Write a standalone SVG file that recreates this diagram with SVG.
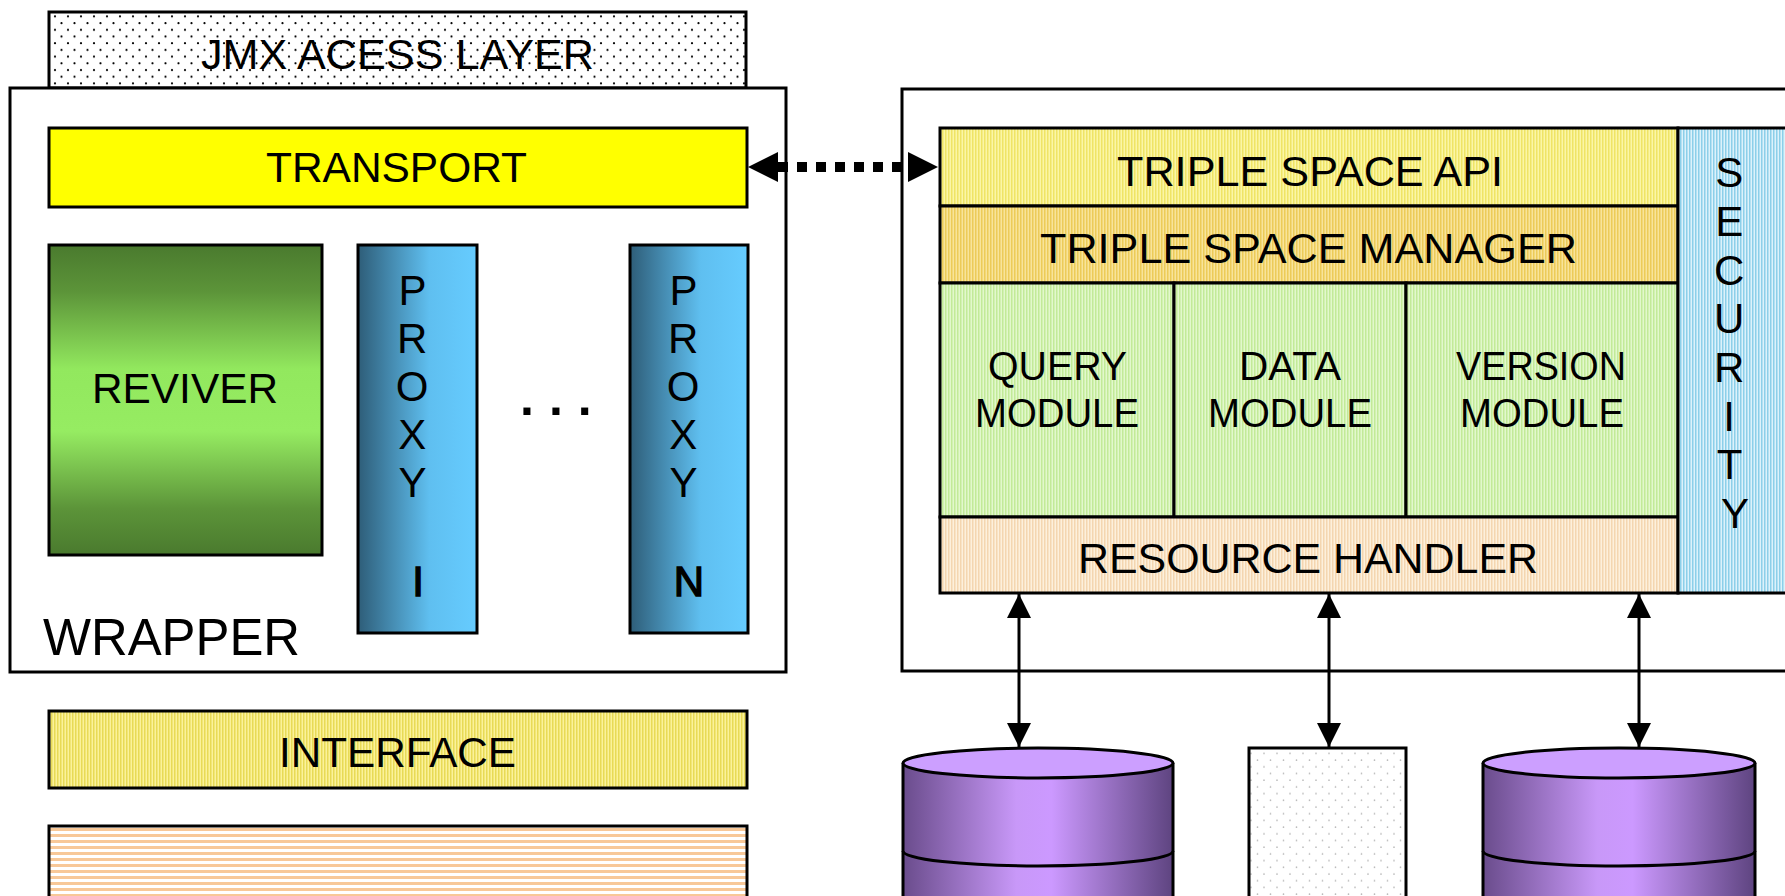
<svg xmlns="http://www.w3.org/2000/svg" width="1785" height="896" viewBox="0 0 1785 896">
  <defs>
    <style>
      .lbl { font-family: "Liberation Sans", Arial, sans-serif; font-size: 42px; fill: #000; }
      .big { font-size: 51px; }
      .mod { font-size: 40px; }
      .heavy { stroke: #000; stroke-width: 1.4px; }
      .box { stroke: #000; stroke-width: 3; }
      .frame { fill: #fff; stroke: #000; stroke-width: 3; }
      .link { stroke: #000; stroke-width: 3; fill: none; }
    </style>
    <!-- dotted texture -->
    <pattern id="dots" width="13" height="13.4" patternUnits="userSpaceOnUse">
      <rect width="13" height="13.4" fill="#fff"/>
      <circle cx="3" cy="3" r="1.1" fill="#000"/>
      <circle cx="9.5" cy="9.7" r="1.1" fill="#000"/>
    </pattern>
    <pattern id="dotsFaint" width="13" height="13.4" patternUnits="userSpaceOnUse">
      <rect width="13" height="13.4" fill="#fff"/>
      <circle cx="3" cy="3" r="0.8" fill="#b8b8b8"/>
      <circle cx="9.5" cy="9.7" r="0.8" fill="#b8b8b8"/>
    </pattern>
    <!-- fine vertical stripe fills -->
    <pattern id="stApi" width="3" height="10" patternUnits="userSpaceOnUse">
      <rect width="3" height="10" fill="#fbf6a6"/>
      <rect width="1.5" height="10" fill="#efe466"/>
    </pattern>
    <pattern id="stMgr" width="3" height="10" patternUnits="userSpaceOnUse">
      <rect width="3" height="10" fill="#f8e49a"/>
      <rect width="1.5" height="10" fill="#eccb58"/>
    </pattern>
    <pattern id="stMod" width="3" height="10" patternUnits="userSpaceOnUse">
      <rect width="3" height="10" fill="#e2f8cc"/>
      <rect width="1.5" height="10" fill="#c2ea98"/>
    </pattern>
    <pattern id="stRes" width="3" height="10" patternUnits="userSpaceOnUse">
      <rect width="3" height="10" fill="#fdf0dc"/>
      <rect width="1.5" height="10" fill="#f4d6b0"/>
    </pattern>
    <pattern id="stSec" width="3" height="10" patternUnits="userSpaceOnUse">
      <rect width="3" height="10" fill="#dcf2fb"/>
      <rect width="1.5" height="10" fill="#8ccfe9"/>
    </pattern>
    <pattern id="stIfc" width="3" height="10" patternUnits="userSpaceOnUse">
      <rect width="3" height="10" fill="#fbf29a"/>
      <rect width="1.5" height="10" fill="#e8da56"/>
    </pattern>
    <pattern id="stHor" width="10" height="6" patternUnits="userSpaceOnUse">
      <rect width="10" height="6" fill="#fff"/>
      <rect width="10" height="3" fill="#f8c898"/>
    </pattern>
    <linearGradient id="gReviver" x1="0" y1="0" x2="0" y2="1">
      <stop offset="0" stop-color="#4a7a2e"/>
      <stop offset="0.15" stop-color="#5c9439"/>
      <stop offset="0.4" stop-color="#92e85e"/>
      <stop offset="0.6" stop-color="#96ec62"/>
      <stop offset="0.85" stop-color="#5c9439"/>
      <stop offset="1" stop-color="#4a7a2e"/>
    </linearGradient>
    <linearGradient id="gProxy" x1="0" y1="0" x2="1" y2="0">
      <stop offset="0" stop-color="#2e5d78"/>
      <stop offset="0.6" stop-color="#5fbff0"/>
      <stop offset="1" stop-color="#66ccff"/>
    </linearGradient>
    <linearGradient id="gDisk" x1="0" y1="0" x2="1" y2="0">
      <stop offset="0" stop-color="#6a4c8c"/>
      <stop offset="0.42" stop-color="#c898f8"/>
      <stop offset="0.55" stop-color="#cc99ff"/>
      <stop offset="1" stop-color="#5e4480"/>
    </linearGradient>
    <marker id="head" viewBox="0 0 24 24" refX="24" refY="12" markerWidth="24" markerHeight="24" markerUnits="userSpaceOnUse" orient="auto-start-reverse">
      <path d="M0,0 L24,12 L0,24 Z" fill="#000"/>
    </marker>
  </defs>

  <rect width="1785" height="896" fill="#fff"/>

  <!-- left stack -->
  <g id="jmx-access-layer">
    <rect x="49" y="12" width="697" height="76" fill="url(#dots)" class="box"/>
    <text class="lbl" x="201" y="69" textLength="393" lengthAdjust="spacingAndGlyphs">JMX ACESS LAYER</text>
  </g>

  <g id="wrapper">
    <rect x="10" y="88" width="776" height="584" class="frame"/>
    <text class="lbl big" x="43" y="655" textLength="257" lengthAdjust="spacingAndGlyphs">WRAPPER</text>
  </g>

  <g id="transport">
    <rect x="49" y="128" width="698" height="79" fill="#ffff00" class="box"/>
    <text class="lbl" x="266" y="182" textLength="261" lengthAdjust="spacingAndGlyphs">TRANSPORT</text>
  </g>

  <g id="reviver">
    <rect x="49" y="245" width="273" height="310" fill="url(#gReviver)" class="box"/>
    <text class="lbl" x="92" y="403" textLength="186" lengthAdjust="spacingAndGlyphs">REVIVER</text>
  </g>

  <g id="proxy-i">
    <rect x="358" y="245" width="119" height="388" fill="url(#gProxy)" class="box"/>
    <text class="lbl" text-anchor="middle">
      <tspan x="418" y="305">P</tspan>
      <tspan x="418" y="353">R</tspan>
      <tspan x="418" y="401">O</tspan>
      <tspan x="418" y="449">X</tspan>
      <tspan x="418" y="497">Y</tspan>
      <tspan x="418" y="596" class="heavy">I</tspan>
    </text>
  </g>

  <g id="ellipsis">
    <text class="lbl" x="520" y="415" style="font-size:50px;font-weight:bold" letter-spacing="15">...</text>
  </g>

  <g id="proxy-n">
    <rect x="630" y="245" width="118" height="388" fill="url(#gProxy)" class="box"/>
    <text class="lbl" text-anchor="middle">
      <tspan x="689" y="305">P</tspan>
      <tspan x="689" y="353">R</tspan>
      <tspan x="689" y="401">O</tspan>
      <tspan x="689" y="449">X</tspan>
      <tspan x="689" y="497">Y</tspan>
      <tspan x="689" y="596" class="heavy">N</tspan>
    </text>
  </g>

  <g id="interface">
    <rect x="49" y="711" width="698" height="77" fill="url(#stIfc)" class="box"/>
    <text class="lbl" x="279" y="767" textLength="237" lengthAdjust="spacingAndGlyphs">INTERFACE</text>
  </g>

  <g id="lower-layer">
    <rect x="49" y="826" width="698" height="90" fill="url(#stHor)" class="box"/>
  </g>

  <!-- right stack -->
  <g id="triple-space-frame">
    <rect x="902" y="89" width="900" height="582" class="frame"/>
  </g>

  <g id="triple-space-api">
    <rect x="940" y="128" width="738" height="78" fill="url(#stApi)" class="box"/>
    <text class="lbl" x="1117" y="186" textLength="386" lengthAdjust="spacingAndGlyphs">TRIPLE SPACE API</text>
  </g>

  <g id="triple-space-manager">
    <rect x="940" y="206" width="738" height="77" fill="url(#stMgr)" class="box"/>
    <text class="lbl" x="1040" y="263" textLength="537" lengthAdjust="spacingAndGlyphs">TRIPLE SPACE MANAGER</text>
  </g>

  <g id="query-module">
    <rect x="940" y="283" width="234" height="234" fill="url(#stMod)" class="box"/>
    <text class="lbl mod"><tspan x="988" y="380" textLength="139" lengthAdjust="spacingAndGlyphs">QUERY</tspan></text>
    <text class="lbl mod"><tspan x="975" y="427" textLength="164" lengthAdjust="spacingAndGlyphs">MODULE</tspan></text>
  </g>

  <g id="data-module">
    <rect x="1174" y="283" width="232" height="234" fill="url(#stMod)" class="box"/>
    <text class="lbl mod"><tspan x="1239" y="380" textLength="102" lengthAdjust="spacingAndGlyphs">DATA</tspan></text>
    <text class="lbl mod"><tspan x="1208" y="427" textLength="164" lengthAdjust="spacingAndGlyphs">MODULE</tspan></text>
  </g>

  <g id="version-module">
    <rect x="1406" y="283" width="272" height="234" fill="url(#stMod)" class="box"/>
    <text class="lbl mod"><tspan x="1456" y="380" textLength="170" lengthAdjust="spacingAndGlyphs">VERSION</tspan></text>
    <text class="lbl mod"><tspan x="1460" y="427" textLength="164" lengthAdjust="spacingAndGlyphs">MODULE</tspan></text>
  </g>

  <g id="resource-handler">
    <rect x="940" y="517" width="738" height="76" fill="url(#stRes)" class="box"/>
    <text class="lbl" x="1078" y="573" textLength="460" lengthAdjust="spacingAndGlyphs">RESOURCE HANDLER</text>
  </g>

  <g id="security">
    <rect x="1678" y="128" width="130" height="465" fill="url(#stSec)" class="box"/>
    <text class="lbl" text-anchor="middle">
      <tspan x="1735" y="187">S</tspan>
      <tspan x="1735" y="236">E</tspan>
      <tspan x="1735" y="285">C</tspan>
      <tspan x="1735" y="333">U</tspan>
      <tspan x="1735" y="382">R</tspan>
      <tspan x="1735" y="431">I</tspan>
      <tspan x="1735" y="479">T</tspan>
      <tspan x="1735" y="528">Y</tspan>
    </text>
  </g>

  <!-- storage -->
  <g id="store-left">
    <path d="M903,763 V910 H1173 V763" fill="url(#gDisk)" class="box"/>
    <path d="M903,851 A135,15 0 0 0 1173,851" fill="none" class="box"/>
    <ellipse cx="1038" cy="763" rx="135" ry="15" fill="#cc9fff" class="box"/>
  </g>

  <g id="store-middle">
    <rect x="1249" y="748" width="157" height="170" fill="url(#dotsFaint)" class="box"/>
  </g>

  <g id="store-right">
    <path d="M1483,763 V910 H1755 V763" fill="url(#gDisk)" class="box"/>
    <path d="M1483,851 A136,15 0 0 0 1755,851" fill="none" class="box"/>
    <ellipse cx="1619" cy="763" rx="136" ry="15" fill="#cc9fff" class="box"/>
  </g>

  <!-- connectors -->
  <g id="connectors">
    <line x1="778" y1="167" x2="910" y2="167" stroke="#000" stroke-width="10" stroke-dasharray="10 9"/>
    <path d="M748,167 L778,152 L778,182 Z" fill="#000"/>
    <path d="M938,167 L908,152 L908,182 Z" fill="#000"/>
    <line x1="1019" y1="594" x2="1019" y2="747" class="link" marker-start="url(#head)" marker-end="url(#head)"/>
    <line x1="1329" y1="594" x2="1329" y2="747" class="link" marker-start="url(#head)" marker-end="url(#head)"/>
    <line x1="1639" y1="594" x2="1639" y2="747" class="link" marker-start="url(#head)" marker-end="url(#head)"/>
  </g>
</svg>
